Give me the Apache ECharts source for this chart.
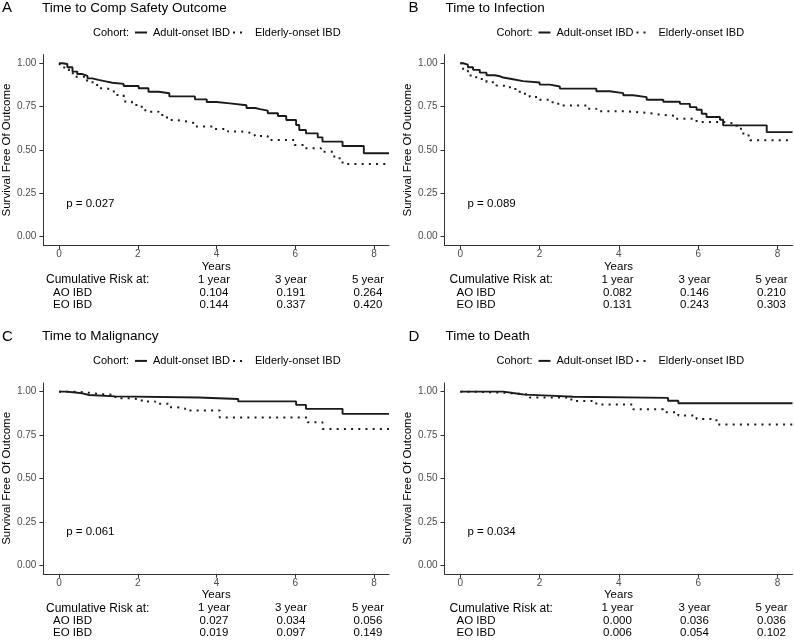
<!DOCTYPE html>
<html><head><meta charset="utf-8">
<script src="https://cdn.jsdelivr.net/npm/echarts@6/dist/echarts.min.js"></script>
<style>html,body{margin:0;padding:0;background:#fff}#c{width:794px;height:641px}</style>
</head><body><div id="c"></div>
<script>
// ---------- data ----------
const panelLetters = ['A', 'B', 'C', 'D'];
const panelTitles = ['Time to Comp Safety Outcome', 'Time to Infection', 'Time to Malignancy', 'Time to Death'];
const cohortNames = ['Adult-onset IBD', 'Elderly-onset IBD'];
const pValues = ['0.027', '0.089', '0.061', '0.034'];
const xTicks = [0, 2, 4, 6, 8];
const yTicks = [0, 0.25, 0.5, 0.75, 1];
const riskHeaders = ['1 year', '3 year', '5 year'];
const riskRowLabels = ['AO IBD', 'EO IBD'];
const aoRiskA = [0.104, 0.191, 0.264], eoRiskA = [0.144, 0.337, 0.420];
const aoRiskB = [0.082, 0.146, 0.210], eoRiskB = [0.131, 0.243, 0.303];
const aoRiskC = [0.027, 0.034, 0.056], eoRiskC = [0.019, 0.097, 0.149];
const aoRiskD = [0.000, 0.036, 0.036], eoRiskD = [0.006, 0.054, 0.102];

// Kaplan-Meier steps [years, survival]
const aoA = [[0,1],[0.08,0.996],[0.21,0.977],[0.34,0.952],[0.46,0.938],[0.59,0.927],[0.72,0.913],[0.84,0.904],[1.0,0.896],[1.18,0.888],[1.35,0.881],[1.64,0.869],[2.02,0.856],[2.27,0.836],[2.53,0.827],[2.8,0.809],[3.45,0.792],[3.75,0.777],[4.0,0.769],[4.34,0.758],[4.76,0.742],[4.98,0.736],[5.1,0.727],[5.3,0.712],[5.56,0.696],[5.77,0.673],[6.02,0.644],[6.1,0.615],[6.27,0.596],[6.57,0.573],[6.69,0.548],[7.2,0.523],[7.74,0.481],[8.38,0.481]];
const eoA = [[0,1],[0.04,0.985],[0.13,0.965],[0.25,0.942],[0.42,0.923],[0.67,0.9],[0.85,0.875],[1.0,0.856],[1.18,0.846],[1.39,0.817],[1.64,0.779],[1.85,0.76],[2.1,0.74],[2.19,0.721],[2.53,0.702],[2.74,0.673],[2.95,0.663],[3.28,0.654],[3.45,0.635],[3.96,0.621],[4.29,0.606],[4.63,0.596],[4.97,0.58],[5.3,0.558],[5.98,0.529],[6.23,0.51],[6.65,0.49],[6.99,0.452],[7.2,0.419],[8.38,0.419]];
const aoB = [[0,1],[0.07,0.992],[0.19,0.977],[0.32,0.962],[0.49,0.946],[0.66,0.931],[0.87,0.925],[1.0,0.918],[1.08,0.908],[1.33,0.897],[1.58,0.889],[2.0,0.877],[2.26,0.866],[2.51,0.854],[3.43,0.839],[3.77,0.828],[4.11,0.816],[4.36,0.805],[4.7,0.79],[5.12,0.778],[5.54,0.766],[5.79,0.747],[5.96,0.732],[6.09,0.709],[6.21,0.69],[6.55,0.674],[6.63,0.642],[7.73,0.603],[8.38,0.603]];
const eoB = [[0,1],[0.07,0.958],[0.19,0.929],[0.4,0.91],[0.66,0.891],[0.91,0.872],[1.0,0.869],[1.25,0.852],[1.5,0.824],[1.75,0.805],[2.0,0.789],[2.26,0.776],[2.47,0.757],[3.18,0.738],[3.43,0.724],[4.11,0.713],[4.78,0.705],[5.0,0.697],[5.4,0.68],[5.96,0.661],[6.63,0.651],[6.97,0.623],[7.14,0.584],[7.31,0.556],[8.38,0.556]];
const aoC = [[0,1],[0.17,0.995],[0.42,0.99],[0.59,0.981],[0.76,0.973],[1.43,0.966],[3.54,0.958],[4.55,0.944],[6.02,0.924],[6.27,0.901],[7.2,0.872],[8.38,0.872]];
const eoC = [[0,1],[0.42,0.994],[0.76,0.987],[1.0,0.981],[1.43,0.962],[1.77,0.956],[2.1,0.943],[2.44,0.93],[2.78,0.91],[3.0,0.903],[3.2,0.891],[4.08,0.851],[6.31,0.823],[6.69,0.785],[8.38,0.785]];
const aoD = [[0,1],[1.08,0.992],[1.33,0.983],[1.62,0.977],[2.26,0.971],[2.85,0.964],[5.24,0.948],[5.5,0.933],[8.38,0.933]];
const eoD = [[0,1],[0.32,0.994],[1.1,0.984],[1.75,0.966],[2.8,0.946],[3.43,0.926],[4.36,0.898],[5.12,0.882],[5.5,0.863],[5.96,0.843],[6.46,0.811],[8.38,0.811]];

const aoCurves = [aoA, aoB, aoC, aoD];
const eoCurves = [eoA, eoB, eoC, eoD];
const aoRisks = [aoRiskA, aoRiskB, aoRiskC, aoRiskD];
const eoRisks = [eoRiskA, eoRiskB, eoRiskC, eoRiskD];

// ---------- layout ----------
const FONT = '"Liberation Sans", Arial, sans-serif';
const offX = [0, 403.5, 0, 403.5];
const offY = [0, 0, 328.4, 328.4];
const GW = 348, GH = 190.8, GL = 41, GT = 54.6;
const solidStyle = { color: '#1a1a1a', width: 1.9, type: 'solid' };
const dotStyle = { color: '#1a1a1a', width: 2, type: [2, 5.2], cap: 'butt' };

const chart = echarts.init(document.getElementById('c'), null, { renderer: 'canvas' });

const grids = [], xAxes = [], yAxes = [], series = [];
for (let i = 0; i < 4; i++) {
  grids.push({ left: GL + offX[i], top: GT + offY[i], width: GW, height: GH, containLabel: false });
  xAxes.push({
    gridIndex: i, type: 'value', min: -0.4, max: 8.38,
    name: 'Years', nameLocation: 'middle', nameGap: 15,
    nameTextStyle: { fontFamily: FONT, fontSize: 11.5, color: '#000' },
    axisLine: { show: true, onZero: false, lineStyle: { color: '#333', width: 1 } },
    axisTick: { show: true, length: 4, customValues: xTicks, lineStyle: { color: '#333' } },
    axisLabel: { customValues: xTicks, fontFamily: FONT, fontSize: 10, color: '#4d4d4d', margin: 4 },
    splitLine: { show: false }
  });
  yAxes.push({
    gridIndex: i, type: 'value', min: -0.05, max: 1.05,
    name: 'Survival Free Of Outcome', nameLocation: 'middle', nameGap: 25,
    nameTextStyle: { fontFamily: FONT, fontSize: 11.5, color: '#000' },
    axisLine: { show: true, onZero: false, lineStyle: { color: '#333', width: 1 } },
    axisTick: { show: true, length: 4, customValues: yTicks, lineStyle: { color: '#333' } },
    axisLabel: { customValues: yTicks, fontFamily: FONT, fontSize: 10, color: '#4d4d4d', margin: 7,
      formatter: v => v.toFixed(2) },
    splitLine: { show: false }
  });
  series.push({
    name: cohortNames[0], type: 'line', xAxisIndex: i, yAxisIndex: i, step: 'end',
    symbol: 'none', data: aoCurves[i], lineStyle: solidStyle, silent: true, z: 3
  });
  series.push({
    name: cohortNames[1], type: 'line', xAxisIndex: i, yAxisIndex: i, step: 'end',
    symbol: 'none', data: eoCurves[i], lineStyle: dotStyle, silent: true, z: 2
  });
}

chart.setOption({
  animation: false,
  backgroundColor: '#fff',
  grid: grids, xAxis: xAxes, yAxis: yAxes, series: series
});

// ---------- annotations ----------
const g = [];
const txt = (x, y, text, size, align, color) => ({
  type: 'text', x: x, y: y, silent: true,
  style: { text: text, fontFamily: FONT, fontSize: size, fill: color || '#000',
           align: align || 'left', verticalAlign: 'middle' }
});
for (let i = 0; i < 4; i++) {
  const ox = offX[i], oy = offY[i];
  g.push(txt(2 + ox + (i % 2 ? 3 : 0), 8 + oy, panelLetters[i], 15));
  g.push(txt(42 + ox, 8 + oy, panelTitles[i], 13.5));
  // legend
  g.push(txt(93 + ox, 32.5 + oy, 'Cohort:', 11));
  g.push({ type: 'line', silent: true, shape: { x1: 135 + ox, y1: 32.5 + oy, x2: 147 + ox, y2: 32.5 + oy },
           style: { stroke: '#1a1a1a', lineWidth: 2 } });
  g.push(txt(153 + ox, 32.5 + oy, cohortNames[0], 11));
  g.push({ type: 'line', silent: true, shape: { x1: 233 + ox, y1: 32.5 + oy, x2: 242 + ox, y2: 32.5 + oy },
           style: { stroke: '#1a1a1a', lineWidth: 2, lineDash: [2, 5] } });
  g.push(txt(255 + ox, 32.5 + oy, cohortNames[1], 11));
  // p value
  const pp = chart.convertToPixel({ gridIndex: i }, [0.18, 0.19]);
  g.push(txt(pp[0], pp[1], 'p = ' + pValues[i], 11.5));
  // risk table
  const axisY = GT + GH + oy;
  const colX = [214, 291, 368].map(v => v + ox);
  g.push(txt(46 + ox, axisY + 34.5, 'Cumulative Risk at:', 12));
  g.push(txt(53 + ox, axisY + 47, riskRowLabels[0], 11.5));
  g.push(txt(53 + ox, axisY + 59.5, riskRowLabels[1], 11.5));
  for (let k = 0; k < 3; k++) {
    g.push(txt(colX[k], axisY + 34.5, riskHeaders[k], 11.5, 'center'));
    g.push(txt(colX[k], axisY + 47, aoRisks[i][k].toFixed(3), 11.5, 'center'));
    g.push(txt(colX[k], axisY + 59.5, eoRisks[i][k].toFixed(3), 11.5, 'center'));
  }
}
chart.setOption({ graphic: g });
</script>
</body></html>
